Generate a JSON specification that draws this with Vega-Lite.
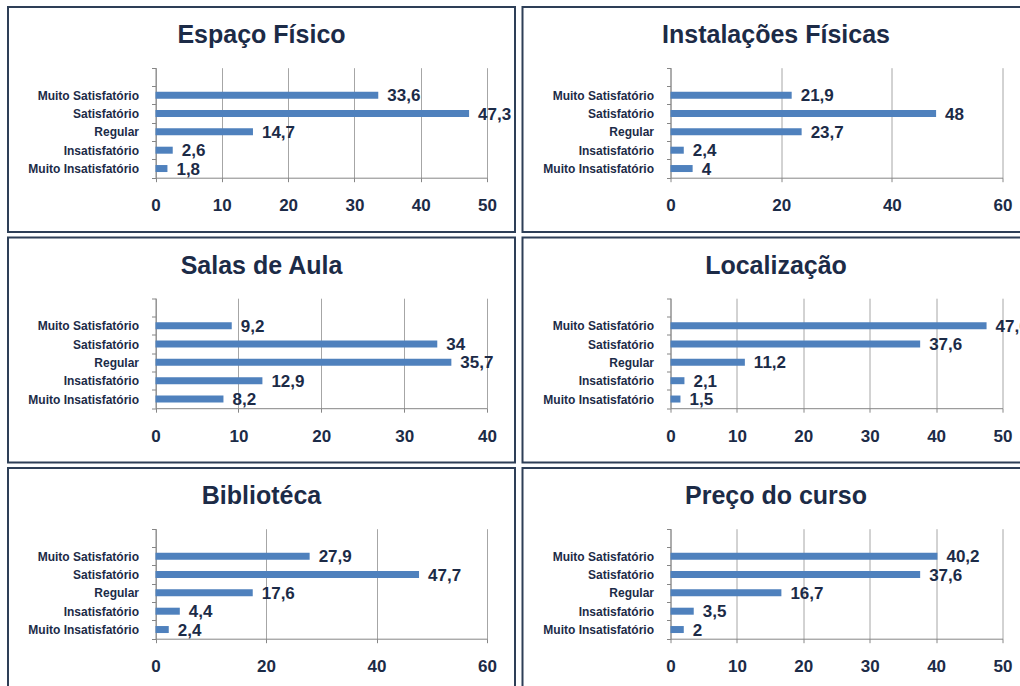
{
  "$schema": "https://vega.github.io/schema/vega-lite/v6.json",
  "padding": {"left": 7, "top": 0, "right": 0, "bottom": 0},
  "background": "white",
  "data": {"values": [
    {"painel": "Espaço Físico", "categoria": "Muito Satisfatório", "valor": 33.6},
    {"painel": "Espaço Físico", "categoria": "Satisfatório", "valor": 47.3},
    {"painel": "Espaço Físico", "categoria": "Regular", "valor": 14.7},
    {"painel": "Espaço Físico", "categoria": "Insatisfatório", "valor": 2.6},
    {"painel": "Espaço Físico", "categoria": "Muito Insatisfatório", "valor": 1.8},
    {"painel": "Instalações Físicas", "categoria": "Muito Satisfatório", "valor": 21.9},
    {"painel": "Instalações Físicas", "categoria": "Satisfatório", "valor": 48},
    {"painel": "Instalações Físicas", "categoria": "Regular", "valor": 23.7},
    {"painel": "Instalações Físicas", "categoria": "Insatisfatório", "valor": 2.4},
    {"painel": "Instalações Físicas", "categoria": "Muito Insatisfatório", "valor": 4},
    {"painel": "Salas de Aula", "categoria": "Muito Satisfatório", "valor": 9.2},
    {"painel": "Salas de Aula", "categoria": "Satisfatório", "valor": 34},
    {"painel": "Salas de Aula", "categoria": "Regular", "valor": 35.7},
    {"painel": "Salas de Aula", "categoria": "Insatisfatório", "valor": 12.9},
    {"painel": "Salas de Aula", "categoria": "Muito Insatisfatório", "valor": 8.2},
    {"painel": "Localização", "categoria": "Muito Satisfatório", "valor": 47.6},
    {"painel": "Localização", "categoria": "Satisfatório", "valor": 37.6},
    {"painel": "Localização", "categoria": "Regular", "valor": 11.2},
    {"painel": "Localização", "categoria": "Insatisfatório", "valor": 2.1},
    {"painel": "Localização", "categoria": "Muito Insatisfatório", "valor": 1.5},
    {"painel": "Bibliotéca", "categoria": "Muito Satisfatório", "valor": 27.9},
    {"painel": "Bibliotéca", "categoria": "Satisfatório", "valor": 47.7},
    {"painel": "Bibliotéca", "categoria": "Regular", "valor": 17.6},
    {"painel": "Bibliotéca", "categoria": "Insatisfatório", "valor": 4.4},
    {"painel": "Bibliotéca", "categoria": "Muito Insatisfatório", "valor": 2.4},
    {"painel": "Preço do curso", "categoria": "Muito Satisfatório", "valor": 40.2},
    {"painel": "Preço do curso", "categoria": "Satisfatório", "valor": 37.6},
    {"painel": "Preço do curso", "categoria": "Regular", "valor": 16.7},
    {"painel": "Preço do curso", "categoria": "Insatisfatório", "valor": 3.5},
    {"painel": "Preço do curso", "categoria": "Muito Insatisfatório", "valor": 2}
  ]},
  "vconcat": [
    {"hconcat": [
      {
        "title": {"text": "Espaço Físico"},
        "width": 507, "height": 225,
        "transform": [{"filter": "datum.painel === 'Espaço Físico'"}],
        "encoding": {
          "y": {"field": "categoria", "type": "nominal", "sort": null,
            "scale": {"domain": ["", "Muito Satisfatório", "Satisfatório", "Regular", "Insatisfatório", "Muito Insatisfatório"], "range": [60.7, 170.7], "paddingInner": 0, "paddingOuter": 0},
            "axis": {"offset": -147.5}}
        },
        "layer": [
          {"mark": {"type": "bar", "size": 7, "color": "#4F81BD"},
           "encoding": {"x": {"field": "valor", "type": "quantitative",
             "scale": {"domain": [0, 50], "range": [147.5, 479], "nice": false},
             "axis": {"orient": "top", "offset": -170.7, "tickSize": 110, "labels": false, "domain": false, "grid": false, "tickColor": "#A6A6A6", "values": [0, 10, 20, 30, 40, 50], "title": null}}}},
          {"mark": {"type": "text", "align": "left", "dx": 9, "dy": 1, "baseline": "middle", "fontSize": 17, "fontWeight": "bold", "font": "Liberation Sans", "color": "#1C2B47", "clip": true},
           "encoding": {"x": {"field": "valor", "type": "quantitative",
             "scale": {"domain": [0, 50], "range": [147.5, 479], "nice": false},
             "axis": {"orient": "bottom", "values": [0, 10, 20, 30, 40, 50]}},
             "text": {"field": "valor", "type": "quantitative", "format": ",.1~f"}}}
        ],
        "resolve": {"axis": {"x": "independent"}}
      },
      {
        "title": {"text": "Instalações Físicas"},
        "width": 507, "height": 225,
        "transform": [{"filter": "datum.painel === 'Instalações Físicas'"}],
        "encoding": {
          "y": {"field": "categoria", "type": "nominal", "sort": null,
            "scale": {"domain": ["", "Muito Satisfatório", "Satisfatório", "Regular", "Insatisfatório", "Muito Insatisfatório"], "range": [60.7, 170.7], "paddingInner": 0, "paddingOuter": 0},
            "axis": {"offset": -148}}
        },
        "layer": [
          {"mark": {"type": "bar", "size": 7, "color": "#4F81BD"},
           "encoding": {"x": {"field": "valor", "type": "quantitative",
             "scale": {"domain": [0, 60], "range": [148, 480], "nice": false},
             "axis": {"orient": "top", "offset": -170.7, "tickSize": 110, "labels": false, "domain": false, "grid": false, "tickColor": "#A6A6A6", "values": [0, 20, 40, 60], "title": null}}}},
          {"mark": {"type": "text", "align": "left", "dx": 9, "dy": 1, "baseline": "middle", "fontSize": 17, "fontWeight": "bold", "font": "Liberation Sans", "color": "#1C2B47", "clip": true},
           "encoding": {"x": {"field": "valor", "type": "quantitative",
             "scale": {"domain": [0, 60], "range": [148, 480], "nice": false},
             "axis": {"orient": "bottom", "values": [0, 20, 40, 60]}},
             "text": {"field": "valor", "type": "quantitative", "format": ",.1~f"}}}
        ],
        "resolve": {"axis": {"x": "independent"}}
      }
    ], "spacing": 5.5},
    {"hconcat": [
      {
        "title": {"text": "Salas de Aula"},
        "width": 507, "height": 225,
        "transform": [{"filter": "datum.painel === 'Salas de Aula'"}],
        "encoding": {
          "y": {"field": "categoria", "type": "nominal", "sort": null,
            "scale": {"domain": ["", "Muito Satisfatório", "Satisfatório", "Regular", "Insatisfatório", "Muito Insatisfatório"], "range": [60.7, 170.7], "paddingInner": 0, "paddingOuter": 0},
            "axis": {"offset": -147.5}}
        },
        "layer": [
          {"mark": {"type": "bar", "size": 7, "color": "#4F81BD"},
           "encoding": {"x": {"field": "valor", "type": "quantitative",
             "scale": {"domain": [0, 40], "range": [147.5, 479], "nice": false},
             "axis": {"orient": "top", "offset": -170.7, "tickSize": 110, "labels": false, "domain": false, "grid": false, "tickColor": "#A6A6A6", "values": [0, 10, 20, 30, 40], "title": null}}}},
          {"mark": {"type": "text", "align": "left", "dx": 9, "dy": 1, "baseline": "middle", "fontSize": 17, "fontWeight": "bold", "font": "Liberation Sans", "color": "#1C2B47", "clip": true},
           "encoding": {"x": {"field": "valor", "type": "quantitative",
             "scale": {"domain": [0, 40], "range": [147.5, 479], "nice": false},
             "axis": {"orient": "bottom", "values": [0, 10, 20, 30, 40]}},
             "text": {"field": "valor", "type": "quantitative", "format": ",.1~f"}}}
        ],
        "resolve": {"axis": {"x": "independent"}}
      },
      {
        "title": {"text": "Localização"},
        "width": 507, "height": 225,
        "transform": [{"filter": "datum.painel === 'Localização'"}],
        "encoding": {
          "y": {"field": "categoria", "type": "nominal", "sort": null,
            "scale": {"domain": ["", "Muito Satisfatório", "Satisfatório", "Regular", "Insatisfatório", "Muito Insatisfatório"], "range": [60.7, 170.7], "paddingInner": 0, "paddingOuter": 0},
            "axis": {"offset": -148}}
        },
        "layer": [
          {"mark": {"type": "bar", "size": 7, "color": "#4F81BD"},
           "encoding": {"x": {"field": "valor", "type": "quantitative",
             "scale": {"domain": [0, 50], "range": [148, 480], "nice": false},
             "axis": {"orient": "top", "offset": -170.7, "tickSize": 110, "labels": false, "domain": false, "grid": false, "tickColor": "#A6A6A6", "values": [0, 10, 20, 30, 40, 50], "title": null}}}},
          {"mark": {"type": "text", "align": "left", "dx": 9, "dy": 1, "baseline": "middle", "fontSize": 17, "fontWeight": "bold", "font": "Liberation Sans", "color": "#1C2B47", "clip": true},
           "encoding": {"x": {"field": "valor", "type": "quantitative",
             "scale": {"domain": [0, 50], "range": [148, 480], "nice": false},
             "axis": {"orient": "bottom", "values": [0, 10, 20, 30, 40, 50]}},
             "text": {"field": "valor", "type": "quantitative", "format": ",.1~f"}}}
        ],
        "resolve": {"axis": {"x": "independent"}}
      }
    ], "spacing": 5.5},
    {"hconcat": [
      {
        "title": {"text": "Bibliotéca"},
        "width": 507, "height": 225,
        "transform": [{"filter": "datum.painel === 'Bibliotéca'"}],
        "encoding": {
          "y": {"field": "categoria", "type": "nominal", "sort": null,
            "scale": {"domain": ["", "Muito Satisfatório", "Satisfatório", "Regular", "Insatisfatório", "Muito Insatisfatório"], "range": [60.7, 170.7], "paddingInner": 0, "paddingOuter": 0},
            "axis": {"offset": -147.5}}
        },
        "layer": [
          {"mark": {"type": "bar", "size": 7, "color": "#4F81BD"},
           "encoding": {"x": {"field": "valor", "type": "quantitative",
             "scale": {"domain": [0, 60], "range": [147.5, 479], "nice": false},
             "axis": {"orient": "top", "offset": -170.7, "tickSize": 110, "labels": false, "domain": false, "grid": false, "tickColor": "#A6A6A6", "values": [0, 20, 40, 60], "title": null}}}},
          {"mark": {"type": "text", "align": "left", "dx": 9, "dy": 1, "baseline": "middle", "fontSize": 17, "fontWeight": "bold", "font": "Liberation Sans", "color": "#1C2B47", "clip": true},
           "encoding": {"x": {"field": "valor", "type": "quantitative",
             "scale": {"domain": [0, 60], "range": [147.5, 479], "nice": false},
             "axis": {"orient": "bottom", "values": [0, 20, 40, 60]}},
             "text": {"field": "valor", "type": "quantitative", "format": ",.1~f"}}}
        ],
        "resolve": {"axis": {"x": "independent"}}
      },
      {
        "title": {"text": "Preço do curso"},
        "width": 507, "height": 225,
        "transform": [{"filter": "datum.painel === 'Preço do curso'"}],
        "encoding": {
          "y": {"field": "categoria", "type": "nominal", "sort": null,
            "scale": {"domain": ["", "Muito Satisfatório", "Satisfatório", "Regular", "Insatisfatório", "Muito Insatisfatório"], "range": [60.7, 170.7], "paddingInner": 0, "paddingOuter": 0},
            "axis": {"offset": -148}}
        },
        "layer": [
          {"mark": {"type": "bar", "size": 7, "color": "#4F81BD"},
           "encoding": {"x": {"field": "valor", "type": "quantitative",
             "scale": {"domain": [0, 50], "range": [148, 480], "nice": false},
             "axis": {"orient": "top", "offset": -170.7, "tickSize": 110, "labels": false, "domain": false, "grid": false, "tickColor": "#A6A6A6", "values": [0, 10, 20, 30, 40, 50], "title": null}}}},
          {"mark": {"type": "text", "align": "left", "dx": 9, "dy": 1, "baseline": "middle", "fontSize": 17, "fontWeight": "bold", "font": "Liberation Sans", "color": "#1C2B47", "clip": true},
           "encoding": {"x": {"field": "valor", "type": "quantitative",
             "scale": {"domain": [0, 50], "range": [148, 480], "nice": false},
             "axis": {"orient": "bottom", "values": [0, 10, 20, 30, 40, 50]}},
             "text": {"field": "valor", "type": "quantitative", "format": ",.1~f"}}}
        ],
        "resolve": {"axis": {"x": "independent"}}
      }
    ], "spacing": 5.5}
  ],
  "spacing": -2.5,
  "config": {
    "locale": {"number": {"decimal": ",", "thousands": ".", "grouping": [3], "currency": ["R$", ""]}},
    "view": {"stroke": "#2E3F57", "strokeWidth": 2},
    "title": {"anchor": "middle", "frame": "group", "offset": -47, "baseline": "middle", "fontSize": 25, "fontWeight": "bold", "font": "Liberation Sans", "color": "#1C2B47"},
    "axisX": {"offset": -54.3, "grid": false, "domainColor": "#868686", "tickColor": "#868686", "tickSize": 4, "labelFontSize": 17, "labelFont": "Liberation Sans", "labelFontWeight": "bold", "labelColor": "#1C2B47", "labelPadding": 16, "labelFlush": false, "labelOverlap": false, "labelBound": false, "title": null},
    "axisY": {"tickBand": "extent", "grid": false, "tickSize": 4, "domainColor": "#868686", "tickColor": "#868686", "labelFontSize": 12, "labelFont": "Liberation Sans", "labelFontWeight": "bold", "labelColor": "#1C2B47", "labelPadding": 13, "title": null}
  }
}
